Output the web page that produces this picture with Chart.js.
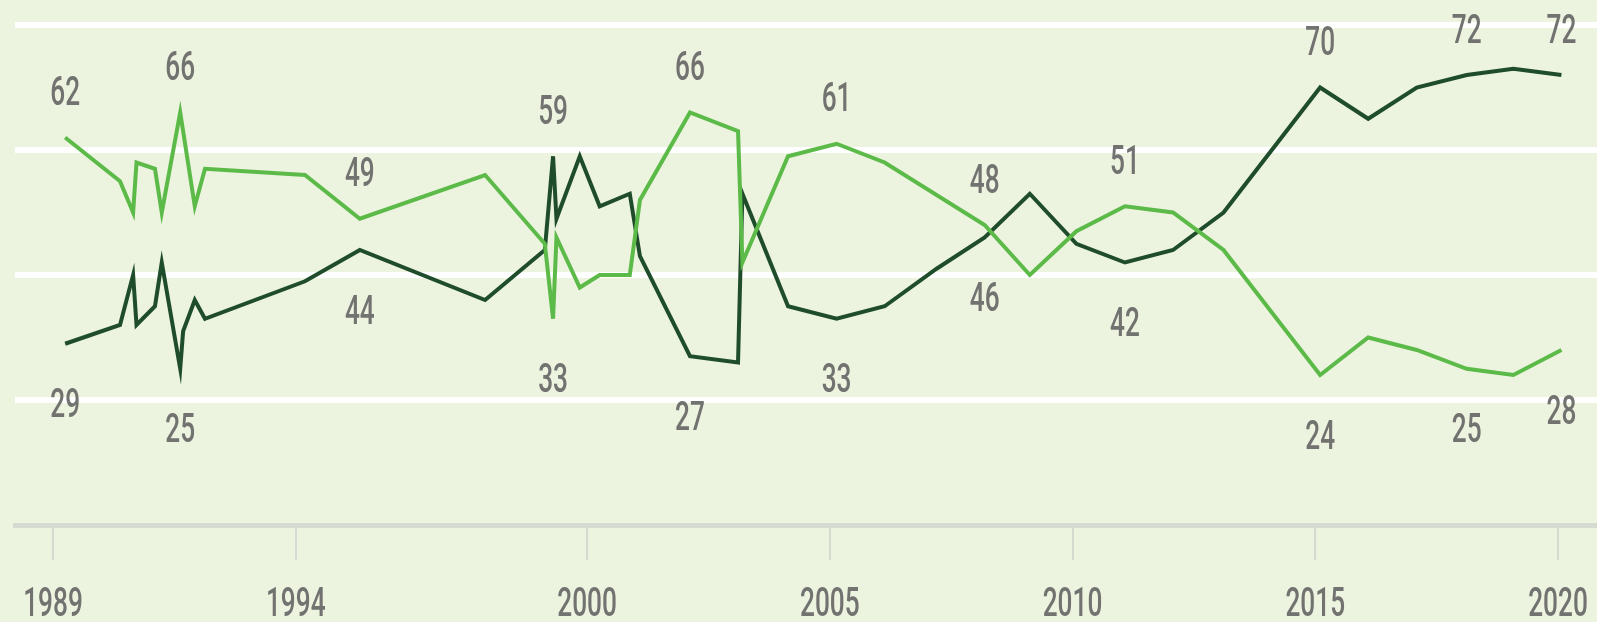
<!DOCTYPE html>
<html>
<head>
<meta charset="utf-8">
<script src="https://cdn.jsdelivr.net/npm/chart.js@4/dist/chart.umd.min.js"></script>
<style>
  html, body { margin: 0; padding: 0; background: #ecf3df; }
  #wrap { position: relative; width: 1597px; height: 622px; }
</style>
</head>
<body>
<div id="wrap"><canvas id="grafica"></canvas></div>
<script>
// survey dates (fractional years) and percentages
const yearsLight = [1989.25, 1990.38, 1990.65, 1990.72, 1991.10, 1991.24, 1991.62, 1991.92, 1992.13,
  1994.19, 1995.32, 1997.90, 1999.13, 1999.30, 1999.37, 1999.85, 2000.26, 2000.88, 2001.09,
  2002.12, 2003.11, 2003.20, 2004.14, 2005.14, 2006.13, 2008.19, 2009.12, 2010.08, 2011.08,
  2012.07, 2013.11, 2015.10, 2016.09, 2017.09, 2018.12, 2019.08, 2020.07];
const valuesLight = [62, 55, 50, 58, 57, 50, 66, 51, 57,
  56, 49, 56, 45, 33, 46, 38, 40, 40, 52,
  66, 63, 42, 59, 61, 58, 48, 40, 47, 51,
  50, 44, 24, 30, 28, 25, 24, 28];

const yearsDark = [1989.25, 1990.38, 1990.65, 1990.72, 1991.10, 1991.24, 1991.62, 1991.68, 1991.92, 1992.13,
  1994.19, 1995.32, 1997.90, 1999.13, 1999.30, 1999.37, 1999.85, 2000.26, 2000.88, 2001.09,
  2002.12, 2003.11, 2003.20, 2004.14, 2005.14, 2006.13, 2007.20, 2008.19, 2009.12, 2010.08,
  2011.08, 2012.07, 2013.11, 2015.10, 2016.09, 2017.09, 2018.12, 2019.08, 2020.07];
const valuesDark = [29, 32, 40, 32, 35, 42, 25, 31, 36, 33,
  39, 44, 36, 44, 59, 49, 59, 51, 53, 43,
  27, 26, 53, 35, 33, 35, 41, 46, 53, 45,
  42, 44, 50, 70, 65, 70, 72, 73, 72];

// which points carry a number, and on which side of the line
const labelIdxLight = [0, 6, 10, 13, 19, 23, 25, 28, 31, 34, 36];
const labelSideLight = ['up', 'up', 'up', 'down', 'up', 'up', 'up', 'up', 'down', 'down', 'down'];
const labelIdxDark = [0, 6, 11, 14, 20, 24, 27, 30, 33, 36, 38];
const labelSideDark = ['down', 'down', 'down', 'up', 'down', 'down', 'down', 'down', 'up', 'up', 'up'];

const tickYears = [1989, 1994, 2000, 2005, 2010, 2015, 2020];
const gridValues = [0, 20, 40, 60, 80];

// narrow-looking text: medium Roboto squeezed horizontally
const FONT = "500 41px Roboto, 'Liberation Sans', sans-serif";
const SQUEEZE = 0.64;
const TEXT_COLOR = '#727370';

function toPoints(xs, ys) {
  return xs.map((x, i) => ({ x: x, y: ys[i] }));
}

function narrowText(ctx, txt, x, yCenter) {
  ctx.save();
  ctx.translate(x, yCenter + 14.6);
  ctx.scale(SQUEEZE, 1);
  ctx.fillText(txt, 0, 0);
  ctx.restore();
}

const etiquetas = {
  id: 'etiquetas',
  afterDatasetsDraw(chart) {
    const ctx = chart.ctx;
    ctx.save();
    ctx.font = FONT;
    ctx.fillStyle = TEXT_COLOR;
    ctx.textAlign = 'center';
    ctx.textBaseline = 'alphabetic';
    chart.data.datasets.forEach((ds, d) => {
      const meta = chart.getDatasetMeta(d);
      ds.labelIdx.forEach((idx, k) => {
        const pt = meta.data[idx];
        const dy = ds.labelSide[k] === 'up' ? -47 : 59;
        narrowText(ctx, String(ds.data[idx].y), pt.x, pt.y + dy);
      });
    });
    // year labels under the axis
    const xs = chart.scales.x;
    tickYears.forEach(yr => {
      narrowText(ctx, String(yr), xs.getPixelForValue(yr), 601);
    });
    ctx.restore();
  }
};

const ctx = document.getElementById('grafica').getContext('2d');
const grafica = new Chart(ctx, {
  type: 'line',
  data: {
    datasets: [
      {
        data: toPoints(yearsLight, valuesLight),
        borderColor: '#5cba48',
        borderWidth: 4,
        pointRadius: 0,
        tension: 0,
        labelIdx: labelIdxLight,
        labelSide: labelSideLight
      },
      {
        data: toPoints(yearsDark, valuesDark),
        borderColor: '#1f4d2c',
        borderWidth: 4,
        pointRadius: 0,
        tension: 0,
        labelIdx: labelIdxDark,
        labelSide: labelSideDark
      }
    ]
  },
  options: {
    responsive: true,
    maintainAspectRatio: false,
    animation: false,
    layout: { padding: { left: 15, right: 0, top: 0, bottom: 62 } },
    plugins: {
      legend: { display: false },
      tooltip: { enabled: false }
    },
    scales: {
      x: {
        type: 'linear',
        min: 1988.217,
        max: 2020.803,
        afterBuildTicks: (axis) => { axis.ticks = tickYears.map(v => ({ value: v })); },
        afterFit: (axis) => { axis.paddingLeft = 0; axis.paddingRight = 0; },
        grid: {
          drawOnChartArea: false,
          drawTicks: true,
          tickLength: 35,
          color: '#d6dbd1',
          lineWidth: 2
        },
        border: { display: true, color: '#d6dbd1', width: 5 },
        ticks: { display: false }
      },
      y: {
        min: 0,
        max: 84,
        afterBuildTicks: (axis) => { axis.ticks = gridValues.map(v => ({ value: v })); },
        afterFit: (axis) => { axis.width = 0; },
        grid: {
          drawTicks: false,
          lineWidth: 6,
          color: (c) => (c.tick && c.tick.value === 0) ? 'rgba(0,0,0,0)' : '#ffffff'
        },
        border: { display: false },
        ticks: { display: false }
      }
    }
  },
  plugins: [etiquetas]
});
</script>
</body>
</html>
